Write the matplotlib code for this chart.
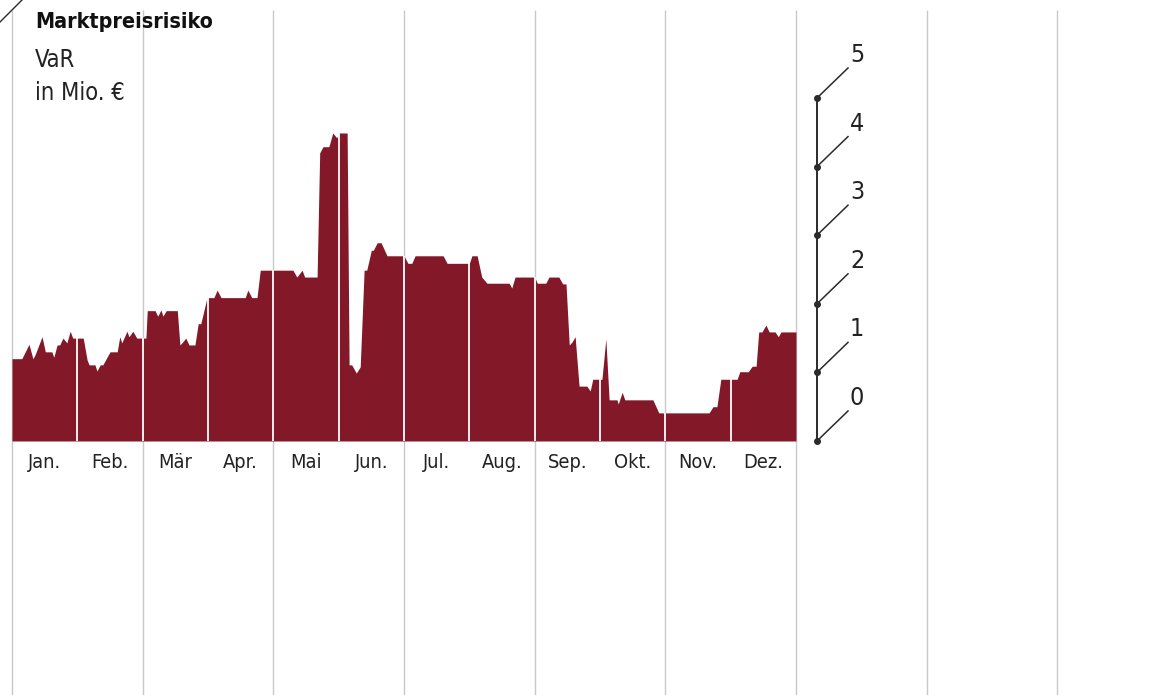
import numpy as np
import matplotlib
matplotlib.use('Agg')
import matplotlib.pyplot as plt
from matplotlib.lines import Line2D
from matplotlib import font_manager

# month positions (0 = start of Jan, 12 = end of Dez) and VaR in Mio. EUR
month_pos = [0.00, 0.15, 0.26, 0.32, 0.35, 0.46, 0.51, 0.61, 0.64, 0.69, 0.73, 0.78, 0.84, 0.89, 0.93, 1.00,
             1.09, 1.15, 1.18, 1.27, 1.30, 1.35, 1.39, 1.50, 1.61, 1.65, 1.68, 1.76, 1.79, 1.85, 1.91, 2.00,
             2.05, 2.07, 2.19, 2.23, 2.28, 2.31, 2.36, 2.53, 2.57, 2.60, 2.66, 2.71, 2.80, 2.85, 2.89, 2.98,
             3.00, 3.09, 3.14, 3.20, 3.57, 3.61, 3.67, 3.75, 3.80, 4.00,
             4.30, 4.36, 4.44, 4.48, 4.67, 4.71, 4.76, 4.85, 4.91, 4.97, 5.01, 5.13, 5.16, 5.20, 5.27, 5.33,
             5.39, 5.43, 5.50, 5.53, 5.59, 5.65, 5.74, 6.00,
             6.06, 6.12, 6.17, 6.60, 6.66, 7.00, 7.04, 7.12, 7.19, 7.27, 7.61, 7.65, 7.70, 8.00,
             8.04, 8.17, 8.22, 8.37, 8.43, 8.48, 8.53, 8.57, 8.62, 8.68, 8.80, 8.85, 8.89, 9.00,
             9.03, 9.09, 9.14, 9.26, 9.28, 9.34, 9.38, 9.81, 9.90, 10.00,
             10.67, 10.73, 10.79, 10.85, 11.00, 11.10, 11.14, 11.27, 11.33, 11.39, 11.43, 11.48, 11.54,
             11.59, 11.68, 11.73, 11.77, 12.00]
var_values = [1.20, 1.20, 1.41, 1.20, 1.25, 1.52, 1.30, 1.30, 1.22, 1.40, 1.40, 1.50, 1.43, 1.60, 1.50, 1.50,
              1.50, 1.18, 1.11, 1.11, 1.02, 1.11, 1.11, 1.30, 1.30, 1.52, 1.43, 1.60, 1.52, 1.60, 1.50, 1.50,
              1.50, 1.90, 1.90, 1.82, 1.91, 1.82, 1.90, 1.90, 1.40, 1.43, 1.50, 1.40, 1.40, 1.71, 1.71, 2.07,
              2.09, 2.09, 2.20, 2.09, 2.09, 2.20, 2.09, 2.09, 2.49, 2.49,
              2.49, 2.39, 2.49, 2.39, 2.39, 4.20, 4.29, 4.29, 4.49, 4.42, 4.49, 4.49, 1.11, 1.11, 0.99, 1.08,
              2.49, 2.49, 2.78, 2.78, 2.89, 2.89, 2.70, 2.70,
              2.59, 2.59, 2.70, 2.70, 2.59, 2.59, 2.70, 2.70, 2.39, 2.30, 2.30, 2.23, 2.39, 2.39,
              2.30, 2.30, 2.39, 2.39, 2.29, 2.29, 1.40, 1.44, 1.52, 0.80, 0.80, 0.73, 0.90, 0.90,
              0.90, 1.49, 0.60, 0.60, 0.54, 0.71, 0.60, 0.60, 0.41, 0.41,
              0.41, 0.50, 0.50, 0.90, 0.90, 0.90, 1.01, 1.01, 1.09, 1.09, 1.59, 1.59, 1.69,
              1.59, 1.59, 1.52, 1.59, 1.59]

months = ['Jan.', 'Feb.', 'Mär', 'Apr.', 'Mai', 'Jun.', 'Jul.', 'Aug.', 'Sep.', 'Okt.', 'Nov.', 'Dez.']
y_ticks = [0, 1, 2, 3, 4, 5]

FILL = '#821828'
GRID = '#c8c8c8'
AXIS = '#2b2b2b'

# narrow font if one is installed, otherwise plain DejaVu
narrow = [f for f in font_manager.fontManager.ttflist
          if f.name == 'DejaVu Sans' and 'condensed' in str(f.stretch)]
STRETCH = 'condensed' if narrow else 'normal'
plt.rcParams['font.family'] = ['DejaVu Sans']
plt.rcParams['font.stretch'] = STRETCH
scale = 1.1 if narrow else 1.0

fig = plt.figure(figsize=(11.75, 6.95), dpi=100)
ax = fig.add_axes([0, 0, 1, 1])
ax.set_axis_off()

# pixel mapping: x px 12 -> month 0, 65.33 px per month; y px 441 -> 0, 68.6 px per unit
px_m = 65.33
px_v = 68.6
ax.set_xlim(-12 / px_m, (1175 - 12) / px_m)
ax.set_ylim((441 - 695) / px_v, 441 / px_v)

x = np.array(month_pos)
y = np.array(var_values)

# gray grid every two months
grid_top = (441 - 10) / px_v
ax.vlines(np.arange(0, 17, 2), ax.get_ylim()[0], grid_top, color=GRID, lw=1, zorder=1)

ax.fill_between(x, 0, y, color=FILL, lw=0, zorder=2)

# white month separators inside the area
bounds = np.arange(1, 12)
tops = np.interp(bounds, x, y)
ax.vlines(bounds, 0, tops, color='white', lw=1.3, zorder=3)

for i, m in enumerate(months):
    ax.text(i + 0.5, -0.32, m, ha='center', va='center', fontsize=13 * scale, color='#222222')

# right-hand value axis with slanted ticks
ax_x = (817 - 12) / px_m
ax.plot([ax_x, ax_x], [0, 5], color=AXIS, lw=1.4, zorder=4, solid_capstyle='butt')
dx = 31 / px_m
dy = 30 / px_v
for t in y_ticks:
    ax.plot([ax_x, ax_x + dx], [t, t + dy], color=AXIS, lw=1.1, zorder=4)
    ax.plot(ax_x, t, 'o', color=AXIS, ms=4, zorder=5)
    ax.text(ax_x + 40 / px_m, t + 43 / px_v, str(t), ha='center', va='center',
            fontsize=18, color='#222222')

# title block
tx = (35 - 12) / px_m
ax.text(tx, (441 - 22) / px_v, 'Marktpreisrisiko', ha='left', va='center',
        fontsize=14 * scale, fontweight='bold', color='#111111')
ax.text(tx, (441 - 60) / px_v, 'VaR', ha='left', va='center',
        fontsize=17, color='#222222')
ax.text(tx, (441 - 93) / px_v, 'in Mio. €', ha='left', va='center',
        fontsize=17, color='#222222')

# small slanted corner mark
fig.add_artist(Line2D([0, 22 / 1175], [1 - 22 / 695, 1], color=AXIS, lw=1))

fig.savefig('out.png', dpi=100)
